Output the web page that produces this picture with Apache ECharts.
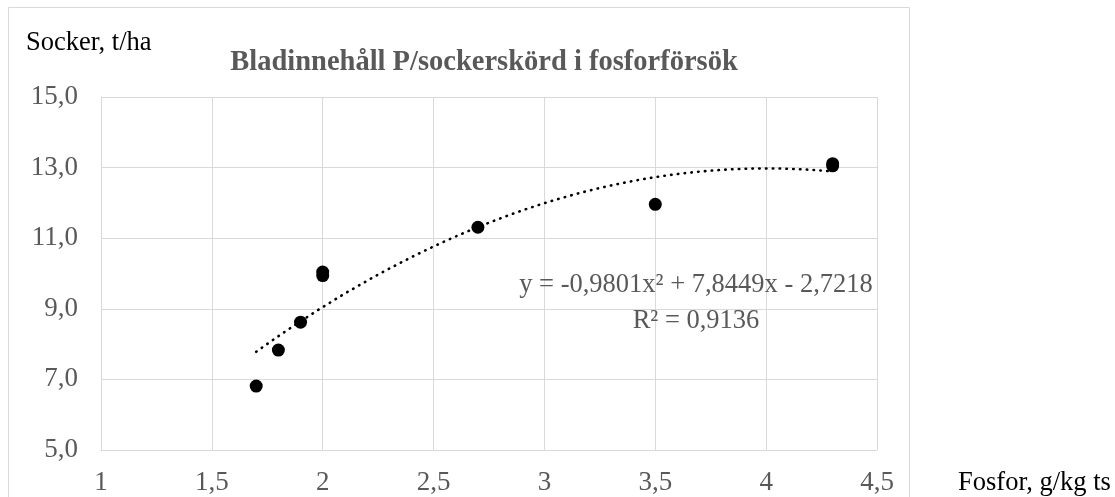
<!DOCTYPE html>
<html>
<head>
<meta charset="utf-8">
<script src="https://cdn.jsdelivr.net/npm/echarts@6/dist/echarts.min.js"></script>
<style>
  html, body { margin: 0; padding: 0; background: #ffffff; }
  #chart { width: 1115px; height: 497px; }
</style>
</head>
<body>
<div id="chart"></div>
<script>
// Leaf phosphorus content (g/kg dry matter) vs. sugar yield (t/ha)
const fosfor = [1.7, 1.8, 1.9, 2.0, 2.0, 2.7, 3.5, 4.3, 4.3];
const socker = [6.81, 7.83, 8.62, 9.94, 10.04, 11.31, 11.96, 13.05, 13.11];

// Second-order polynomial trendline: y = a*x^2 + b*x + c
const trendCoefs = [-0.9801, 7.8449, -2.7218];
const trendRange = [1.7, 4.3];
const rSquared = 0.9136;

const titleText = 'Bladinnehåll P/sockerskörd i fosforförsök';
const yAxisName = 'Socker, t/ha';
const xAxisName = 'Fosfor, g/kg ts';

const fmtComma = (v, d) => (d == null ? String(v) : v.toFixed(d)).replace('.', ',');
const fmtCoef = v => v.toFixed(4).replace('.', ',');

const points = fosfor.map((x, i) => [x, socker[i]]);

const trend = [];
const steps = 130;
for (let i = 0; i <= steps; i++) {
  const x = trendRange[0] + (trendRange[1] - trendRange[0]) * i / steps;
  const y = trendCoefs[0] * x * x + trendCoefs[1] * x + trendCoefs[2];
  trend.push([x, y]);
}

const a = trendCoefs[0], b = trendCoefs[1], c = trendCoefs[2];
const eqLine = 'y = ' + fmtCoef(a) + 'x\u00B2 ' + (b >= 0 ? '+ ' : '- ') + fmtCoef(Math.abs(b)) +
  'x ' + (c >= 0 ? '+ ' : '- ') + fmtCoef(Math.abs(c));
const r2Line = 'R\u00B2 = ' + fmtCoef(rSquared);

const serif = '"Liberation Serif", "DejaVu Serif", serif';
const grey = '#595959';
const gridGrey = '#d9d9d9';

const chart = echarts.init(document.getElementById('chart'), null, { renderer: 'canvas' });
chart.setOption({
  animation: false,
  backgroundColor: '#ffffff',
  grid: { left: 101, right: 238, top: 97, bottom: 47 },
  xAxis: {
    type: 'value',
    min: 1, max: 4.5, interval: 0.5,
    axisLine: { show: true, lineStyle: { color: gridGrey, width: 1 } },
    axisTick: { show: false },
    splitLine: { show: true, lineStyle: { color: gridGrey, width: 1 } },
    axisLabel: {
      margin: 19, color: grey, fontFamily: serif, fontSize: 27,
      formatter: v => fmtComma(v)
    }
  },
  yAxis: {
    type: 'value',
    min: 5, max: 15, interval: 2,
    axisLine: { show: true, lineStyle: { color: gridGrey, width: 1 } },
    axisTick: { show: false },
    splitLine: { show: true, lineStyle: { color: gridGrey, width: 1 } },
    axisLabel: {
      margin: 23, color: grey, fontFamily: serif, fontSize: 27,
      formatter: v => fmtComma(v, 1)
    }
  },
  series: [
    {
      type: 'line',
      data: trend,
      showSymbol: false,
      symbol: 'none',
      smooth: false,
      lineStyle: { color: '#000000', width: 2.6, type: [0.5, 6.3], cap: 'round' },
      z: 2
    },
    {
      type: 'scatter',
      data: points,
      symbol: 'circle',
      symbolSize: 13,
      itemStyle: { color: '#000000', opacity: 1 },
      z: 3
    }
  ],
  graphic: [
    {
      type: 'rect', silent: true, z: -10,
      shape: { x: 8.5, y: 7.5, width: 901, height: 520 },
      style: { fill: null, stroke: gridGrey, lineWidth: 1 }
    },
    {
      type: 'text', x: 484, y: 63,
      style: {
        text: titleText, fill: grey, font: 'bold 28.5px ' + serif,
        textAlign: 'center', textVerticalAlign: 'middle'
      }
    },
    {
      type: 'text', x: 26, y: 43,
      style: {
        text: yAxisName, fill: '#000000', font: '26.5px ' + serif,
        textAlign: 'left', textVerticalAlign: 'middle'
      }
    },
    {
      type: 'text', x: 958, y: 483,
      style: {
        text: xAxisName, fill: '#000000', font: '26.5px ' + serif,
        textAlign: 'left', textVerticalAlign: 'middle'
      }
    },
    {
      type: 'text', x: 696, y: 285, z: 10,
      style: {
        text: eqLine, fill: grey, font: '26.5px ' + serif,
        textAlign: 'center', textVerticalAlign: 'middle'
      }
    },
    {
      type: 'text', x: 696, y: 321, z: 10,
      style: {
        text: r2Line, fill: grey, font: '26.5px ' + serif,
        textAlign: 'center', textVerticalAlign: 'middle'
      }
    }
  ]
});
</script>
</body>
</html>
